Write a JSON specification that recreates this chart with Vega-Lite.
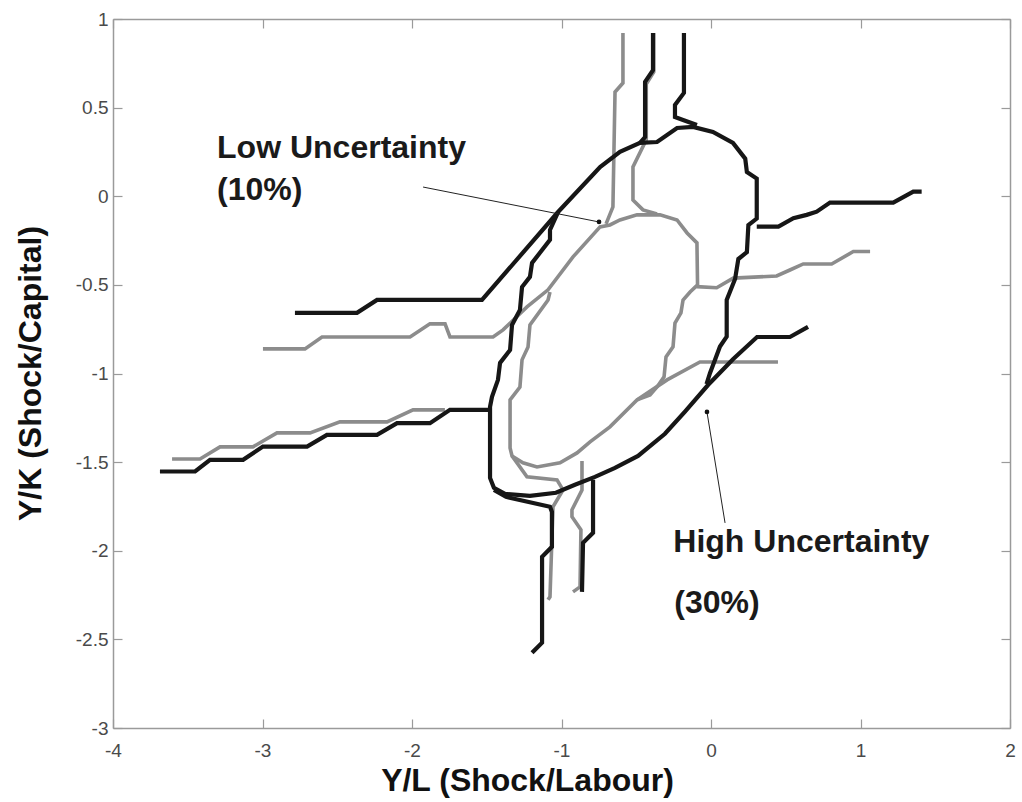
{
  "$schema": "https://vega.github.io/schema/vega-lite/v6.json",
  "width": 897,
  "height": 709,
  "autosize": "none",
  "padding": {"left": 113, "top": 19, "right": 12, "bottom": 74},
  "background": "white",
  "config": {
    "view": {"stroke": null},
    "axis": {
      "grid": false,
      "domainColor": "#9a9a9a",
      "domainWidth": 1.5,
      "tickColor": "#9a9a9a",
      "tickWidth": 1.2,
      "labelFont": "Liberation Sans",
      "labelFontSize": 19,
      "labelColor": "#4a4a4a",
      "titleFont": "Liberation Sans",
      "titleFontSize": 32,
      "titleFontWeight": "bold",
      "titleColor": "#111111"
    }
  },
  "datasets": {
    "paths": [
      {"p":"Gc","u":"Low","i":0,"x":-3.605,"y":-1.482},{"p":"Gc","u":"Low","i":1,"x":-3.418,"y":-1.482},{"p":"Gc","u":"Low","i":2,"x":-3.284,"y":-1.414},{"p":"Gc","u":"Low","i":3,"x":-3.064,"y":-1.414},{"p":"Gc","u":"Low","i":4,"x":-2.903,"y":-1.335},{"p":"Gc","u":"Low","i":5,"x":-2.682,"y":-1.335},{"p":"Gc","u":"Low","i":6,"x":-2.482,"y":-1.273},{"p":"Gc","u":"Low","i":7,"x":-2.167,"y":-1.273},{"p":"Gc","u":"Low","i":8,"x":-1.993,"y":-1.205},{"p":"Gc","u":"Low","i":9,"x":-1.78,"y":-1.205},
      {"p":"Ga","u":"Low","i":0,"x":-2.997,"y":-0.861},{"p":"Ga","u":"Low","i":1,"x":-2.716,"y":-0.861},{"p":"Ga","u":"Low","i":2,"x":-2.602,"y":-0.794},{"p":"Ga","u":"Low","i":3,"x":-2.013,"y":-0.794},{"p":"Ga","u":"Low","i":4,"x":-1.88,"y":-0.72},{"p":"Ga","u":"Low","i":5,"x":-1.779,"y":-0.72},{"p":"Ga","u":"Low","i":6,"x":-1.746,"y":-0.794},{"p":"Ga","u":"Low","i":7,"x":-1.458,"y":-0.794},{"p":"Ga","u":"Low","i":8,"x":-1.391,"y":-0.754},{"p":"Ga","u":"Low","i":9,"x":-1.231,"y":-0.624},{"p":"Ga","u":"Low","i":10,"x":-1.09,"y":-0.528},{"p":"Ga","u":"Low","i":11,"x":-0.923,"y":-0.342},{"p":"Ga","u":"Low","i":12,"x":-0.742,"y":-0.173},{"p":"Ga","u":"Low","i":13,"x":-0.676,"y":-0.162},{"p":"Ga","u":"Low","i":14,"x":-0.609,"y":-0.134},{"p":"Ga","u":"Low","i":15,"x":-0.495,"y":-0.105},{"p":"Ga","u":"Low","i":16,"x":-0.341,"y":-0.105},{"p":"Ga","u":"Low","i":17,"x":-0.227,"y":-0.134},{"p":"Ga","u":"Low","i":18,"x":-0.16,"y":-0.207},{"p":"Ga","u":"Low","i":19,"x":-0.094,"y":-0.263},{"p":"Ga","u":"Low","i":20,"x":-0.09,"y":-0.5},{"p":"Ga","u":"Low","i":21,"x":-0.14,"y":-0.54},{"p":"Ga","u":"Low","i":22,"x":-0.187,"y":-0.585},{"p":"Ga","u":"Low","i":23,"x":-0.201,"y":-0.658},{"p":"Ga","u":"Low","i":24,"x":-0.241,"y":-0.715},{"p":"Ga","u":"Low","i":25,"x":-0.254,"y":-0.85},{"p":"Ga","u":"Low","i":26,"x":-0.301,"y":-0.906},{"p":"Ga","u":"Low","i":27,"x":-0.314,"y":-1.019},{"p":"Ga","u":"Low","i":28,"x":-0.361,"y":-1.076},{"p":"Ga","u":"Low","i":29,"x":-0.408,"y":-1.121},{"p":"Ga","u":"Low","i":30,"x":-0.495,"y":-1.149},
      {"p":"Gr","u":"Low","i":0,"x":-0.096,"y":-0.51},{"p":"Gr","u":"Low","i":1,"x":0.038,"y":-0.516},{"p":"Gr","u":"Low","i":2,"x":0.149,"y":-0.462},{"p":"Gr","u":"Low","i":3,"x":0.439,"y":-0.45},{"p":"Gr","u":"Low","i":4,"x":0.528,"y":-0.416},{"p":"Gr","u":"Low","i":5,"x":0.617,"y":-0.382},{"p":"Gr","u":"Low","i":6,"x":0.807,"y":-0.382},{"p":"Gr","u":"Low","i":7,"x":0.952,"y":-0.312},{"p":"Gr","u":"Low","i":8,"x":1.064,"y":-0.312},
      {"p":"Gb","u":"Low","i":0,"x":0.448,"y":-0.935},{"p":"Gb","u":"Low","i":1,"x":-0.074,"y":-0.935},{"p":"Gb","u":"Low","i":2,"x":-0.294,"y":-1.036},{"p":"Gb","u":"Low","i":3,"x":-0.495,"y":-1.149},{"p":"Gb","u":"Low","i":4,"x":-0.676,"y":-1.301},{"p":"Gb","u":"Low","i":5,"x":-0.809,"y":-1.386},{"p":"Gb","u":"Low","i":6,"x":-0.896,"y":-1.448},{"p":"Gb","u":"Low","i":7,"x":-1.01,"y":-1.504},{"p":"Gb","u":"Low","i":8,"x":-1.164,"y":-1.527},{"p":"Gb","u":"Low","i":9,"x":-1.258,"y":-1.504},{"p":"Gb","u":"Low","i":10,"x":-1.331,"y":-1.465},{"p":"Gb","u":"Low","i":11,"x":-1.344,"y":-1.42},{"p":"Gb","u":"Low","i":12,"x":-1.344,"y":-1.149},{"p":"Gb","u":"Low","i":13,"x":-1.278,"y":-1.076},{"p":"Gb","u":"Low","i":14,"x":-1.264,"y":-0.923},{"p":"Gb","u":"Low","i":15,"x":-1.224,"y":-0.85},{"p":"Gb","u":"Low","i":16,"x":-1.211,"y":-0.726},{"p":"Gb","u":"Low","i":17,"x":-1.09,"y":-0.585},{"p":"Gb","u":"Low","i":18,"x":-1.077,"y":-0.54},
      {"p":"Gd","u":"Low","i":0,"x":-1.331,"y":-1.465},{"p":"Gd","u":"Low","i":1,"x":-1.231,"y":-1.583},{"p":"Gd","u":"Low","i":2,"x":-1.03,"y":-1.6},{"p":"Gd","u":"Low","i":3,"x":-0.99,"y":-1.657},{"p":"Gd","u":"Low","i":4,"x":-1.057,"y":-1.752},{"p":"Gd","u":"Low","i":5,"x":-1.077,"y":-2.26},{"p":"Gd","u":"Low","i":6,"x":-1.09,"y":-2.277},
      {"p":"Ge","u":"Low","i":0,"x":-0.863,"y":-1.493},{"p":"Ge","u":"Low","i":1,"x":-0.863,"y":-1.657},{"p":"Ge","u":"Low","i":2,"x":-0.93,"y":-1.769},{"p":"Ge","u":"Low","i":3,"x":-0.93,"y":-1.808},{"p":"Ge","u":"Low","i":4,"x":-0.87,"y":-1.882},{"p":"Ge","u":"Low","i":5,"x":-0.876,"y":-2.204},{"p":"Ge","u":"Low","i":6,"x":-0.923,"y":-2.232},
      {"p":"Gf","u":"Low","i":0,"x":-0.589,"y":0.921},{"p":"Gf","u":"Low","i":1,"x":-0.589,"y":0.639},{"p":"Gf","u":"Low","i":2,"x":-0.642,"y":0.588},{"p":"Gf","u":"Low","i":3,"x":-0.656,"y":-0.06},{"p":"Gf","u":"Low","i":4,"x":-0.702,"y":-0.156},
      {"p":"Gg","u":"Low","i":0,"x":-0.383,"y":0.921},{"p":"Gg","u":"Low","i":1,"x":-0.383,"y":0.701},{"p":"Gg","u":"Low","i":2,"x":-0.433,"y":0.633},{"p":"Gg","u":"Low","i":3,"x":-0.433,"y":0.318},{"p":"Gg","u":"Low","i":4,"x":-0.522,"y":0.165},{"p":"Gg","u":"Low","i":5,"x":-0.522,"y":-0.021},{"p":"Gg","u":"Low","i":6,"x":-0.455,"y":-0.077},{"p":"Gg","u":"Low","i":7,"x":-0.361,"y":-0.1},
      {"p":"Ba","u":"High","i":0,"x":-2.783,"y":-0.658},{"p":"Ba","u":"High","i":1,"x":-2.368,"y":-0.658},{"p":"Ba","u":"High","i":2,"x":-2.234,"y":-0.585},{"p":"Ba","u":"High","i":3,"x":-1.532,"y":-0.585},{"p":"Ba","u":"High","i":4,"x":-1.023,"y":-0.089},{"p":"Ba","u":"High","i":5,"x":-0.742,"y":0.165},{"p":"Ba","u":"High","i":6,"x":-0.609,"y":0.25},{"p":"Ba","u":"High","i":7,"x":-0.475,"y":0.301},{"p":"Ba","u":"High","i":8,"x":-0.361,"y":0.306},{"p":"Ba","u":"High","i":9,"x":-0.227,"y":0.385},{"p":"Ba","u":"High","i":10,"x":-0.12,"y":0.391},{"p":"Ba","u":"High","i":11,"x":0.013,"y":0.363},{"p":"Ba","u":"High","i":12,"x":0.147,"y":0.301},{"p":"Ba","u":"High","i":13,"x":0.229,"y":0.212},{"p":"Ba","u":"High","i":14,"x":0.24,"y":0.137},{"p":"Ba","u":"High","i":15,"x":0.306,"y":0.1},{"p":"Ba","u":"High","i":16,"x":0.306,"y":-0.126},{"p":"Ba","u":"High","i":17,"x":0.25,"y":-0.163},{"p":"Ba","u":"High","i":18,"x":0.24,"y":-0.315},{"p":"Ba","u":"High","i":19,"x":0.183,"y":-0.354},{"p":"Ba","u":"High","i":20,"x":0.161,"y":-0.467},{"p":"Ba","u":"High","i":21,"x":0.105,"y":-0.585},{"p":"Ba","u":"High","i":22,"x":0.105,"y":-0.792},{"p":"Ba","u":"High","i":23,"x":0.06,"y":-0.848},{"p":"Ba","u":"High","i":24,"x":0.027,"y":-0.923},{"p":"Ba","u":"High","i":25,"x":-0.007,"y":-0.998},{"p":"Ba","u":"High","i":26,"x":-0.03,"y":-1.06},
      {"p":"Bb","u":"High","i":0,"x":0.649,"y":-0.737},{"p":"Bb","u":"High","i":1,"x":0.528,"y":-0.794},{"p":"Bb","u":"High","i":2,"x":0.308,"y":-0.794},{"p":"Bb","u":"High","i":3,"x":0.147,"y":-0.92},{"p":"Bb","u":"High","i":4,"x":-0.02,"y":-1.065},{"p":"Bb","u":"High","i":5,"x":-0.174,"y":-1.215},{"p":"Bb","u":"High","i":6,"x":-0.308,"y":-1.34},{"p":"Bb","u":"High","i":7,"x":-0.488,"y":-1.465},{"p":"Bb","u":"High","i":8,"x":-0.642,"y":-1.532},{"p":"Bb","u":"High","i":9,"x":-0.776,"y":-1.583},{"p":"Bb","u":"High","i":10,"x":-0.91,"y":-1.628},{"p":"Bb","u":"High","i":11,"x":-1.037,"y":-1.673},{"p":"Bb","u":"High","i":12,"x":-1.211,"y":-1.69},{"p":"Bb","u":"High","i":13,"x":-1.378,"y":-1.679},{"p":"Bb","u":"High","i":14,"x":-1.452,"y":-1.645},{"p":"Bb","u":"High","i":15,"x":-1.478,"y":-1.589},{"p":"Bb","u":"High","i":16,"x":-1.478,"y":-1.188},{"p":"Bb","u":"High","i":17,"x":-1.465,"y":-1.132},{"p":"Bb","u":"High","i":18,"x":-1.425,"y":-1.036},{"p":"Bb","u":"High","i":19,"x":-1.411,"y":-0.94},{"p":"Bb","u":"High","i":20,"x":-1.344,"y":-0.867},{"p":"Bb","u":"High","i":21,"x":-1.331,"y":-0.726},{"p":"Bb","u":"High","i":22,"x":-1.278,"y":-0.641},{"p":"Bb","u":"High","i":23,"x":-1.264,"y":-0.512},{"p":"Bb","u":"High","i":24,"x":-1.211,"y":-0.455},{"p":"Bb","u":"High","i":25,"x":-1.197,"y":-0.376},{"p":"Bb","u":"High","i":26,"x":-1.077,"y":-0.246},{"p":"Bb","u":"High","i":27,"x":-1.077,"y":-0.19},{"p":"Bb","u":"High","i":28,"x":-1.023,"y":-0.089},
      {"p":"Bc","u":"High","i":0,"x":-3.686,"y":-1.553},{"p":"Bc","u":"High","i":1,"x":-3.451,"y":-1.553},{"p":"Bc","u":"High","i":2,"x":-3.351,"y":-1.487},{"p":"Bc","u":"High","i":3,"x":-3.13,"y":-1.487},{"p":"Bc","u":"High","i":4,"x":-2.997,"y":-1.412},{"p":"Bc","u":"High","i":5,"x":-2.702,"y":-1.412},{"p":"Bc","u":"High","i":6,"x":-2.569,"y":-1.346},{"p":"Bc","u":"High","i":7,"x":-2.234,"y":-1.346},{"p":"Bc","u":"High","i":8,"x":-2.1,"y":-1.28},{"p":"Bc","u":"High","i":9,"x":-1.88,"y":-1.28},{"p":"Bc","u":"High","i":10,"x":-1.746,"y":-1.205},{"p":"Bc","u":"High","i":11,"x":-1.478,"y":-1.205},
      {"p":"Bd","u":"High","i":0,"x":-1.452,"y":-1.657},{"p":"Bd","u":"High","i":1,"x":-1.371,"y":-1.696},{"p":"Bd","u":"High","i":2,"x":-1.077,"y":-1.752},{"p":"Bd","u":"High","i":3,"x":-1.064,"y":-1.781},{"p":"Bd","u":"High","i":4,"x":-1.064,"y":-1.978},{"p":"Bd","u":"High","i":5,"x":-1.13,"y":-2.034},{"p":"Bd","u":"High","i":6,"x":-1.13,"y":-2.519},{"p":"Bd","u":"High","i":7,"x":-1.197,"y":-2.576},
      {"p":"Be","u":"High","i":0,"x":-0.789,"y":-1.6},{"p":"Be","u":"High","i":1,"x":-0.789,"y":-1.899},{"p":"Be","u":"High","i":2,"x":-0.856,"y":-1.955},{"p":"Be","u":"High","i":3,"x":-0.863,"y":-2.232},
      {"p":"Bf","u":"High","i":0,"x":-0.388,"y":0.921},{"p":"Bf","u":"High","i":1,"x":-0.388,"y":0.712},{"p":"Bf","u":"High","i":2,"x":-0.441,"y":0.645},{"p":"Bf","u":"High","i":3,"x":-0.441,"y":0.334},{"p":"Bf","u":"High","i":4,"x":-0.475,"y":0.301},
      {"p":"Bg","u":"High","i":0,"x":-0.181,"y":0.921},{"p":"Bg","u":"High","i":1,"x":-0.181,"y":0.583},{"p":"Bg","u":"High","i":2,"x":-0.241,"y":0.515},{"p":"Bg","u":"High","i":3,"x":-0.241,"y":0.447},{"p":"Bg","u":"High","i":4,"x":-0.187,"y":0.43},{"p":"Bg","u":"High","i":5,"x":-0.094,"y":0.402},
      {"p":"Bh","u":"High","i":0,"x":0.306,"y":-0.171},{"p":"Bh","u":"High","i":1,"x":0.451,"y":-0.171},{"p":"Bh","u":"High","i":2,"x":0.551,"y":-0.124},{"p":"Bh","u":"High","i":3,"x":0.64,"y":-0.105},{"p":"Bh","u":"High","i":4,"x":0.707,"y":-0.087},{"p":"Bh","u":"High","i":5,"x":0.796,"y":-0.036},{"p":"Bh","u":"High","i":6,"x":1.219,"y":-0.036},{"p":"Bh","u":"High","i":7,"x":1.353,"y":0.026},{"p":"Bh","u":"High","i":8,"x":1.409,"y":0.026}
    ],
    "arrows": [
      {"a":"low","i":0,"x":-1.926,"y":0.052,"tip":false},
      {"a":"low","i":1,"x":-0.749,"y":-0.145,"tip":true},
      {"a":"high","i":0,"x":0.094,"y":-1.843,"tip":false},
      {"a":"high","i":1,"x":-0.027,"y":-1.217,"tip":true}
    ],
    "labels": [
      {"t":"Low Uncertainty","x":-3.304,"y":0.216},
      {"t":"(10%)","x":-3.304,"y":-0.021},
      {"t":"High Uncertainty","x":-0.252,"y":-2.005},
      {"t":"(30%)","x":-0.245,"y":-2.35}
    ]
  },
  "layer": [
    {
      "data": {"name": "paths"},
      "transform": [{"filter": "datum.u === 'Low'"}],
      "mark": {"type": "line", "color": "#8c8c8c", "strokeWidth": 3.6},
      "encoding": {
        "x": {"field": "x", "type": "quantitative", "scale": {"domain": [-4, 2], "nice": false, "zero": false},
          "axis": {"orient": "bottom", "values": [-4, -3, -2, -1, 0, 1, 2], "tickSize": -9, "labelPadding": 22, "labelBaseline": "top",
            "labelExpr": "datum.value < 0 ? '-' + format(-datum.value, '~g') : format(datum.value, '~g')",
            "title": "Y/L (Shock/Labour)", "titleX": 414, "titleY": 62, "titleAlign": "center", "titleBaseline": "alphabetic", "labelFlush": false}},
        "y": {"field": "y", "type": "quantitative", "scale": {"domain": [-3, 1], "nice": false, "zero": false},
          "axis": {"orient": "left", "values": [-3, -2.5, -2, -1.5, -1, -0.5, 0, 0.5, 1], "tickSize": -9, "labelPadding": 14,
            "labelExpr": "datum.value < 0 ? '-' + format(-datum.value, '~g') : format(datum.value, '~g')",
            "title": "Y/K (Shock/Capital)", "titleX": -73, "titleY": 354, "titleAngle": -90, "titleAlign": "center", "titleBaseline": "alphabetic", "labelFlush": false}},
        "detail": {"field": "p"},
        "order": {"field": "i"}
      }
    },
    {
      "data": {"name": "paths"},
      "transform": [{"filter": "datum.u === 'High'"}],
      "mark": {"type": "line", "color": "#161616", "strokeWidth": 4.2},
      "encoding": {
        "x": {"field": "x", "type": "quantitative", "axis": null},
        "y": {"field": "y", "type": "quantitative", "axis": null},
        "detail": {"field": "p"},
        "order": {"field": "i"}
      }
    },
    {
      "data": {"name": "arrows"},
      "mark": {"type": "line", "color": "#222222", "strokeWidth": 1},
      "encoding": {
        "x": {"field": "x", "type": "quantitative", "axis": null},
        "y": {"field": "y", "type": "quantitative", "axis": null},
        "detail": {"field": "a"},
        "order": {"field": "i"}
      }
    },
    {
      "data": {"name": "arrows"},
      "transform": [{"filter": "datum.tip"}],
      "mark": {"type": "point", "filled": true, "color": "#111111", "size": 22, "opacity": 1},
      "encoding": {
        "x": {"field": "x", "type": "quantitative", "axis": null},
        "y": {"field": "y", "type": "quantitative", "axis": null}
      }
    },
    {
      "data": {"name": "labels"},
      "mark": {"type": "text", "align": "left", "baseline": "alphabetic", "font": "Liberation Sans", "fontSize": 32, "fontWeight": "bold", "color": "#1a1a1a"},
      "encoding": {
        "x": {"field": "x", "type": "quantitative", "axis": null},
        "y": {"field": "y", "type": "quantitative", "axis": null},
        "text": {"field": "t"}
      }
    },
    {
      "data": {"name": "labels"},
      "mark": {"type": "point", "opacity": 0},
      "encoding": {
        "x": {"field": "x", "type": "quantitative",
          "axis": {"orient": "top", "values": [-4, -3, -2, -1, 0, 1, 2], "tickSize": -9, "labels": false, "title": null}},
        "y": {"field": "y", "type": "quantitative",
          "axis": {"orient": "right", "values": [-3, -2.5, -2, -1.5, -1, -0.5, 0, 0.5, 1], "tickSize": -9, "labels": false, "title": null}}
      }
    }
  ],
  "resolve": {"axis": {"x": "independent", "y": "independent"}}
}
